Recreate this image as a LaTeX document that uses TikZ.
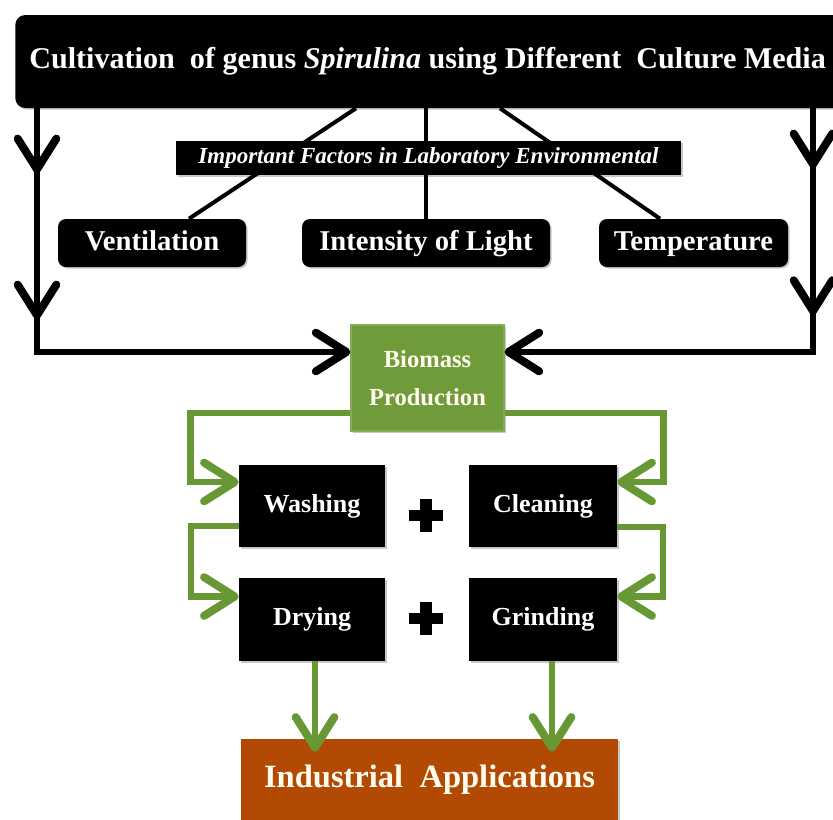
\documentclass[tikz,border=0pt]{standalone}
\usepackage{fontspec}
\setmainfont{Liberation Serif}
\usetikzlibrary{arrows.meta,calc,decorations.markings,shadows}

\definecolor{bioGreen}{RGB}{112,155,58}
\definecolor{lineGreen}{RGB}{104,152,52}
\definecolor{indOrange}{RGB}{178,74,4}
\definecolor{cream}{RGB}{255,252,238}

\tikzset{
  chev/.tip={Straight Barb[length=23pt,width=29pt,line width=6pt,round]},
  boxshadow/.style={drop shadow={shadow xshift=1.2pt,shadow yshift=-1.2pt,opacity=0.22,fill=black}},
  darkbox/.style={fill=black,text=white,inner sep=0pt,boxshadow},
  roundbox/.style={darkbox,rounded corners=6pt,text height=15pt,text depth=4.5pt,
      font=\fontsize{21.5pt}{25pt}\selectfont\bfseries},
  stepbox/.style={darkbox,text height=13.5pt,text depth=4pt,
      font=\fontsize{19.5pt}{23pt}\selectfont\bfseries},
  blkline/.style={line width=5pt,black},
  fanline/.style={line width=3pt,black},
  grnline/.style={line width=4.6pt,lineGreen,-{chev}},
  midchev/.style 2 args={postaction={decorate},decoration={markings,
      mark=at position #1 with {\arrow{chev}},
      mark=at position #2 with {\arrow{chev}}}},
}

\begin{document}
\begin{tikzpicture}[x=0.75pt,y=-0.75pt]
\useasboundingbox (0,0) rectangle (833,819);
\clip (0,0) rectangle (833,819);

% title bar, running past the right margin
\node[darkbox,rounded corners=7.5pt,anchor=west,minimum height=69.75pt,
      inner xsep=10.5pt,text height=16pt,text depth=5pt,
      font=\fontsize{22.6pt}{27pt}\selectfont\bfseries] (top) at (15,61.5)
  {\makebox[640pt][l]{Cultivation\ \ of genus \textit{Spirulina} using Different\ \ Culture Media}};

% laboratory factors
\node[roundbox,minimum width=141pt,minimum height=36pt] (vent) at (152,243) {Ventilation};
\node[roundbox,minimum width=186pt,minimum height=36pt] (light) at (426,243) {Intensity of Light};
\node[roundbox,minimum width=141.75pt,minimum height=36pt] (temp) at (693.5,243) {Temperature};

% fan of lines from the title bar to the factors
\coordinate (fa) at (356,108);
\coordinate (fc) at (500,108);
\draw[fanline] (top.south -| fa) -- ($(vent.north)+(37,0)$);
\draw[fanline] (top.south -| light.north) -- (light.north);
\draw[fanline] (top.south -| fc) -- ($(temp.north)+(-33.5,0)$);

\node[darkbox,minimum width=378.75pt,minimum height=25.5pt,
      font=\fontsize{17.25pt}{20pt}\selectfont\bfseries\itshape] (fac) at (428.5,158)
  {Important Factors in Laboratory Environmental};

% biomass
\node[fill=bioGreen,draw=bioGreen!85!white,line width=0.8pt,text=cream,inner sep=0pt,
      minimum width=114.75pt,minimum height=79.5pt,align=center,boxshadow,
      font=\fontsize{18.4pt}{28.5pt}\selectfont\bfseries] (bio) at (427.5,378)
  {Biomass\\Production};

% side feeds into biomass
\coordinate (cL) at (37,352);
\coordinate (cR) at (813,352);
\draw[blkline,midchev={48.75pt}{158.25pt},-{chev}] (top.south -| cL) -- (cL) -- (bio.west |- cL);
\draw[blkline,midchev={45pt}{155pt},-{chev}] (top.south -| cR) -- (cR) -- (bio.east |- cR);

% processing steps
\node[stepbox,minimum width=109.5pt,minimum height=61.5pt] (wash) at (312,506) {Washing};
\node[stepbox,minimum width=111pt,minimum height=61.5pt] (clean) at (543,506) {Cleaning};
\node[stepbox,minimum width=109.5pt,minimum height=62.25pt] (dry) at (312,619.5) {Drying};
\node[stepbox,minimum width=111pt,minimum height=62.25pt] (grind) at (543,619.5) {Grinding};

% plus signs
\fill (409,510) rectangle (443,521);
\fill (420,499) rectangle (432,532);
\fill (409,613) rectangle (443,624);
\fill (420,602) rectangle (432,635);

% applications
\node[fill=indOrange,text=cream,inner sep=0pt,minimum width=282.75pt,minimum height=68.25pt,
      text height=15pt,text depth=11.25pt,boxshadow,
      font=\fontsize{24.4pt}{28pt}\selectfont\bfseries] (ind) at (429.5,784.5)
  {Industrial\ \ Applications};

% green flow
\draw[grnline] ($(bio.west)+(0,35)$) -- ++(-160,0) |- ($(wash.west)+(0,-24)$);
\draw[grnline] ($(bio.east)+(0,35)$) -- ++(159,0) |- ($(clean.east)+(0,-24)$);
\draw[grnline] ($(wash.west)+(0,20)$) -- ++(-48,0) |- ($(dry.west)+(0,-23)$);
\draw[grnline] ($(clean.east)+(0,21)$) -- ++(46,0) |- ($(grind.east)+(0,-23)$);
\draw[grnline] ($(dry.south)+(3,0)$) -- ($(dry.south |- ind.north)+(3,13)$);
\draw[grnline] ($(grind.south)+(9,0)$) -- ($(grind.south |- ind.north)+(9,13)$);
\end{tikzpicture}
\end{document}
